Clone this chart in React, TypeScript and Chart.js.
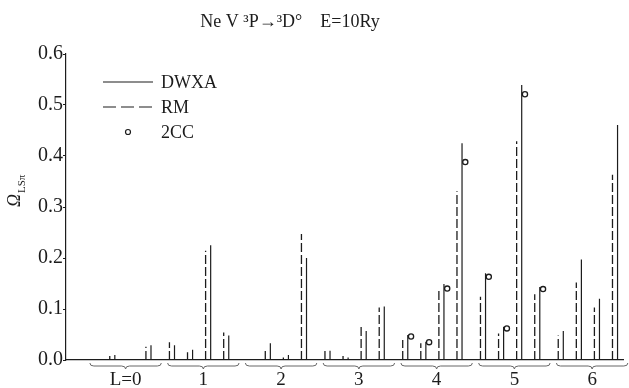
import { useEffect, useRef } from 'react';
import { Chart, registerables } from 'chart.js';

Chart.register(...registerables);

// ---- data ----
const groupLabels = ['L=0', '1', '2', '3', '4', '5', '6'];
const seriesNames = ['DWXA', 'RM', '2CC'];
const titleText = 'Ne V \u00B3P\u2192\u00B3D\u00B0    E=10Ry';
const yTicks = [0, 0.1, 0.2, 0.3, 0.4, 0.5, 0.6];

// four transitions (slots) per L group; null = not shown
const rmValues = [
  null, 0.008, null, 0.026,
  0.035, 0.015, 0.214, 0.054,
  null, 0.023, 0.005, 0.247,
  0.023, 0.008, 0.067, 0.103,
  0.039, 0.033, 0.140, 0.331,
  0.124, 0.052, 0.429, 0.129,
  0.048, 0.152, 0.103, 0.363,
];
const dwxaValues = [
  null, 0.010, null, 0.029,
  0.029, 0.020, 0.225, 0.048,
  null, 0.033, 0.010, 0.200,
  0.018, 0.005, 0.057, 0.105,
  0.049, 0.036, 0.149, 0.425,
  0.170, 0.065, 0.539, 0.143,
  0.057, 0.197, 0.120, 0.461,
];
const ccValues = [
  null, null, null, null,
  null, null, null, null,
  null, null, null, null,
  null, null, null, null,
  0.046, 0.035, 0.140, 0.388,
  0.163, 0.062, 0.521, 0.139,
  null, null, null, null,
];

// ---- layout constants ----
const SLOTS = 4;
const GROUP_SPAN = 4.3;
const X_MIN = -1.42;
const X_MAX = 29.42;
const OFF_RM = 0;
const OFF_DW = 0.28;
const OFF_CC = 0.46;
const BRACE_START = -0.1;
const BRACE_END = 3.85;
const INK = '#1c1c1c';
const SERIF = '"Liberation Serif", "DejaVu Serif", serif';

const xPos = (i: number) => Math.floor(i / SLOTS) * GROUP_SPAN + (i % SLOTS);

function stems(vals: (number | null)[], off: number) {
  const pts: { x: number; y: number | null }[] = [];
  vals.forEach((v, i) => {
    if (v == null) return;
    const x = xPos(i) + off;
    pts.push({ x, y: 0 }, { x, y: v }, { x, y: null });
  });
  return pts;
}

function dots(vals: (number | null)[], off: number) {
  const pts: { x: number; y: number }[] = [];
  vals.forEach((v, i) => {
    if (v == null) return;
    pts.push({ x: xPos(i) + off, y: v });
  });
  return pts;
}

const decorPlugin = {
  id: 'decor',
  afterDraw(chart: any) {
    const { ctx, scales } = chart;
    const xs = scales.x;
    ctx.save();
    ctx.fillStyle = INK;
    ctx.strokeStyle = INK;

    // title
    ctx.font = `18px ${SERIF}`;
    ctx.textAlign = 'center';
    ctx.textBaseline = 'middle';
    ctx.fillText(titleText, 290, 22);

    // y-axis title: Omega with subscript LS pi
    ctx.save();
    ctx.translate(20, 207);
    ctx.rotate(-Math.PI / 2);
    ctx.textAlign = 'left';
    ctx.textBaseline = 'alphabetic';
    ctx.font = `italic 18px ${SERIF}`;
    ctx.fillText('\u03A9', 0, 0);
    const w = ctx.measureText('\u03A9').width;
    ctx.font = `11px ${SERIF}`;
    ctx.fillText('LS\u03C0', w + 1, 5);
    ctx.restore();

    // legend
    const rows = [82, 107, 132];
    ctx.lineWidth = 1.2;
    ctx.textAlign = 'left';
    ctx.textBaseline = 'middle';
    ctx.font = `18px ${SERIF}`;
    ctx.beginPath();
    ctx.setLineDash([]);
    ctx.moveTo(103, rows[0]);
    ctx.lineTo(153, rows[0]);
    ctx.stroke();
    ctx.beginPath();
    ctx.setLineDash([13, 5]);
    ctx.moveTo(103, rows[1]);
    ctx.lineTo(153, rows[1]);
    ctx.stroke();
    ctx.setLineDash([]);
    ctx.beginPath();
    ctx.arc(128, rows[2], 2.5, 0, Math.PI * 2);
    ctx.fillStyle = '#fff';
    ctx.fill();
    ctx.stroke();
    ctx.fillStyle = INK;
    seriesNames.forEach((n, i) => ctx.fillText(n, 161, rows[i] + 1));

    // braces under each L group
    ctx.strokeStyle = '#666';
    ctx.lineWidth = 1;
    const yb = 366;
    groupLabels.forEach((_, g) => {
      const x1 = xs.getPixelForValue(g * GROUP_SPAN + BRACE_START);
      const x2 = Math.min(xs.getPixelForValue(g * GROUP_SPAN + BRACE_END), chart.width - 1);
      const m = (x1 + x2) / 2;
      ctx.beginPath();
      ctx.moveTo(x1, yb - 3);
      ctx.quadraticCurveTo(x1, yb, x1 + 4, yb);
      ctx.lineTo(m - 4, yb);
      ctx.quadraticCurveTo(m, yb, m, yb + 3);
      ctx.quadraticCurveTo(m, yb, m + 4, yb);
      ctx.lineTo(x2 - 4, yb);
      ctx.quadraticCurveTo(x2, yb, x2, yb - 3);
      ctx.stroke();
    });
    ctx.restore();
  },
};

export default function App() {
  const ref = useRef<HTMLCanvasElement>(null);
  useEffect(() => {
    if (!ref.current) return;
    const chart = new Chart(ref.current, {
      type: 'line',
      data: {
        datasets: [
          {
            label: seriesNames[0],
            data: stems(dwxaValues, OFF_DW),
            borderColor: INK,
            borderWidth: 1.2,
            pointRadius: 0,
            spanGaps: false,
            tension: 0,
          },
          {
            label: seriesNames[1],
            data: stems(rmValues, OFF_RM),
            borderColor: INK,
            borderWidth: 1.3,
            borderDash: [9, 3],
            pointRadius: 0,
            spanGaps: false,
            tension: 0,
          },
          {
            type: 'scatter',
            label: seriesNames[2],
            data: dots(ccValues, OFF_CC),
            showLine: false,
            pointRadius: 2.6,
            pointBackgroundColor: '#fff',
            pointBorderColor: INK,
            pointBorderWidth: 1.3,
          },
        ] as any,
      },
      options: {
        responsive: true,
        maintainAspectRatio: false,
        animation: false,
        layout: { padding: { top: 54, left: 0, right: 0, bottom: 0 } },
        plugins: {
          legend: { display: false },
          tooltip: { enabled: false },
          title: { display: false },
        },
        scales: {
          x: {
            type: 'linear',
            min: X_MIN,
            max: X_MAX,
            grid: { display: false },
            border: { display: true, color: INK, width: 1.2 },
            afterBuildTicks: (s: any) => {
              s.ticks = groupLabels.map((_, g) => ({
                value: g * GROUP_SPAN + (BRACE_START + BRACE_END) / 2,
              }));
            },
            afterFit: (s: any) => {
              s.height = 28;
            },
            ticks: {
              autoSkip: false,
              maxRotation: 0,
              padding: 1,
              color: INK,
              font: { family: SERIF, size: 19 },
              callback: (_v: any, i: number) => groupLabels[i],
            },
          },
          y: {
            min: 0,
            max: 0.6,
            afterFit: (s: any) => {
              s.width = 66;
            },
            afterBuildTicks: (s: any) => {
              s.ticks = yTicks.map((v) => ({ value: v }));
            },
            grid: { drawOnChartArea: false, drawTicks: true, tickLength: 3, color: INK },
            border: { display: true, color: INK, width: 1.2 },
            ticks: {
              padding: 0,
              color: INK,
              font: { family: SERIF, size: 20 },
              callback: (v: any) => Number(v).toFixed(1),
            },
          },
        },
      } as any,
      plugins: [decorPlugin],
    });
    return () => chart.destroy();
  }, []);
  return (
    <div style={{ position: 'absolute', left: 0, top: 0, width: 629, height: 388 }}>
      <canvas ref={ref} />
    </div>
  );
}
